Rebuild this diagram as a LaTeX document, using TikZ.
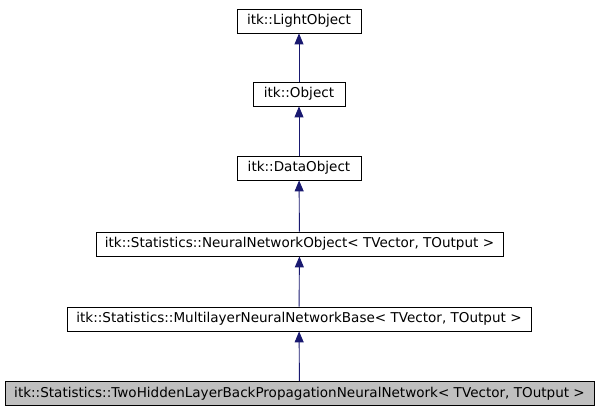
\documentclass[tikz,border=0pt]{standalone}
\usepackage{fontspec}
\setmainfont{DejaVu Sans}
\usetikzlibrary{positioning,arrows.meta}
\definecolor{edgeblue}{HTML}{191970}
\tikzset{
	classbox/.style={draw, line width=0.8bp, minimum height=24bp, inner xsep=0pt, font=\fontsize{13.6}{15}\selectfont},
	thisclass/.style={classbox, fill=gray!50},
	inherit/.style={draw=edgeblue, line width=0.9bp, -{Triangle[length=11bp,width=9bp]}},
}
\begin{document}
\begin{tikzpicture}[x=1bp,y=-1bp]
		\useasboundingbox (0,0) rectangle (597,411);
		\node[classbox, minimum width=124bp] (light) at (299,21) {itk::LightObject};
		\node[classbox, minimum width=92bp] (object) at (299,94) {itk::Object};
		\node[classbox, minimum width=124bp] (data) at (299,168) {itk::DataObject};
		\node[classbox, minimum width=407bp] (nnobject) at (299.5,244) {itk::Statistics::NeuralNetworkObject< TVector, TOutput >};
		\node[classbox, minimum width=464bp] (multilayer) at (299,319) {itk::Statistics::MultilayerNeuralNetworkBase< TVector, TOutput >};
		\node[thisclass, minimum width=589bp] (twohidden) at (299.5,393.5) {itk::Statistics::TwoHiddenLayerBackPropagationNeuralNetwork< TVector, TOutput >};
		
		\draw[inherit] (object) -- (light);
		\draw[inherit] (data) -- (object);
		\draw[inherit] (nnobject) -- (data);
		\draw[inherit] (multilayer) -- (nnobject);
		\draw[inherit] (twohidden) -- (multilayer);
		
	\end{tikzpicture}
\end{document}
